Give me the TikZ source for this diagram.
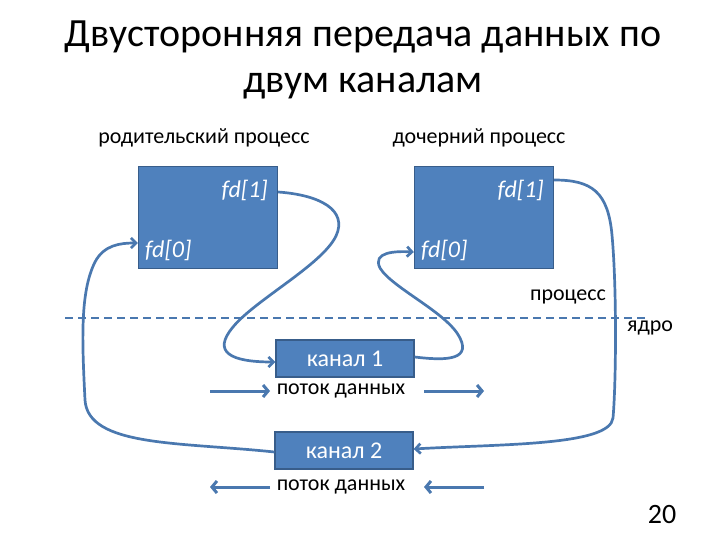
\documentclass[tikz,border=0pt]{standalone}
\usepackage{fontspec}
\setmainfont{Carlito}
\usetikzlibrary{arrows.meta,calc}
\definecolor{boxfill}{HTML}{4F81BD}
\definecolor{boxline}{HTML}{385D8A}
\definecolor{conn}{HTML}{4A78AF}
\tikzset{
  procbox/.style={draw=boxline, line width=1.3pt, fill=boxfill, minimum width=139pt, minimum height=102pt, inner sep=0pt},
  chanbox/.style={draw=boxline, line width=1.3pt, fill=boxfill, minimum width=138pt, minimum height=37pt, inner sep=0pt, text=white, font=\fontsize{24}{28}\selectfont},
  fdlabel/.style={text=white, font=\fontsize{24}{28}\selectfont\itshape, inner sep=0pt},
  txt/.style={font=\fontsize{22}{26}\selectfont, inner sep=0pt},
  connline/.style={draw=conn, line width=2.7pt, -{Straight Barb[length=5pt,width=10pt]}},
  flowarrow/.style={draw=conn, line width=3pt, -{Straight Barb[length=5pt,width=12pt]}}
}
\begin{document}
\begin{tikzpicture}[x=1pt,y=-1pt]
\useasboundingbox (0,0) rectangle (720,540);
% title
\node[font=\fontsize{40}{45}\selectfont, anchor=base, inner sep=0pt] (title1) at (363,47) {Двусторонняя передача данных по};
\node[font=\fontsize{40}{45}\selectfont, anchor=base, inner sep=0pt] (title2) at (363,93) {двум каналам};
\node[txt] (lparent) at (204,138) {родительский процесс};
\node[txt] (lchild) at (479,138) {дочерний процесс};
% process boxes
\node[procbox] (p1) at (208,217.5) {};
\node[procbox] (p2) at (484,217.5) {};
\node[fdlabel, anchor=base east] (p1fd1) at (268,198) {fd[1]};
\node[fdlabel, anchor=base west] (p1fd0) at (145,257) {fd[0]};
\node[fdlabel, anchor=base east] (p2fd1) at (544,198) {fd[1]};
\node[fdlabel, anchor=base west] (p2fd0) at (421,257) {fd[0]};
% dashed line
\coordinate (dl) at (65,318);
\coordinate (dr) at (648,318);
\draw[conn, line width=2pt, dash pattern=on 8pt off 5pt] (dl) -- (dr);
\node[txt] (lproc) at (568,297) {процесс};
\node[txt] (lker) at (650,328) {ядро};
% channels
\node[chanbox] (c1) at (345,358.5) {канал 1};
\node[chanbox] (c2) at (344,450.5) {канал 2};
\node[txt] (f1) at (341,391) {поток данных};
\node[txt] (f2) at (341,487) {поток данных};
% flow arrows
\coordinate (a1s) at (210,391); \coordinate (a1e) at (270,391);
\coordinate (a2s) at (424,391); \coordinate (a2e) at (484,391);
\coordinate (a3s) at (270,487); \coordinate (a3e) at (210,487);
\coordinate (a4s) at (484,487); \coordinate (a4e) at (424,487);
\draw[flowarrow] (a1s) -- (a1e);
\draw[flowarrow] (a2s) -- (a2e);
\draw[flowarrow] (a3s) -- (a3e);
\draw[flowarrow] (a4s) -- (a4e);
% connectors
\draw[connline] (p1.east |- 0,192) .. controls (320,195) and (348,210) .. (336,236)
  .. controls (322,265) and (255,300) .. (233,327)
  .. controls (212,352) and (230,362) .. (c1.west |- 0,362);
\draw[connline] (c1.east |- 0,357) .. controls (440,360) and (472,362) .. (460,338)
  .. controls (448,313) and (392,288) .. (380,268)
  .. controls (372,252) and (395,251) .. (p2.west |- 0,252);
\draw[connline] (p2.east |- 0,180) .. controls (592,180) and (608,192) .. (612,235)
  .. controls (617,290) and (616,385) .. (613,418)
  .. controls (610,446) and (500,444) .. (c2.east |- 0,449);
\draw[connline] (c2.west |- 0,452) .. controls (180,442) and (88,447) .. (85,400)
  .. controls (82,340) and (80,292) .. (95,262)
  .. controls (104,245) and (120,243) .. (p1.west |- 0,243);
% page number
\node[font=\fontsize{28}{32}\selectfont] (pg) at (662,515) {20};
\end{tikzpicture}
\end{document}
